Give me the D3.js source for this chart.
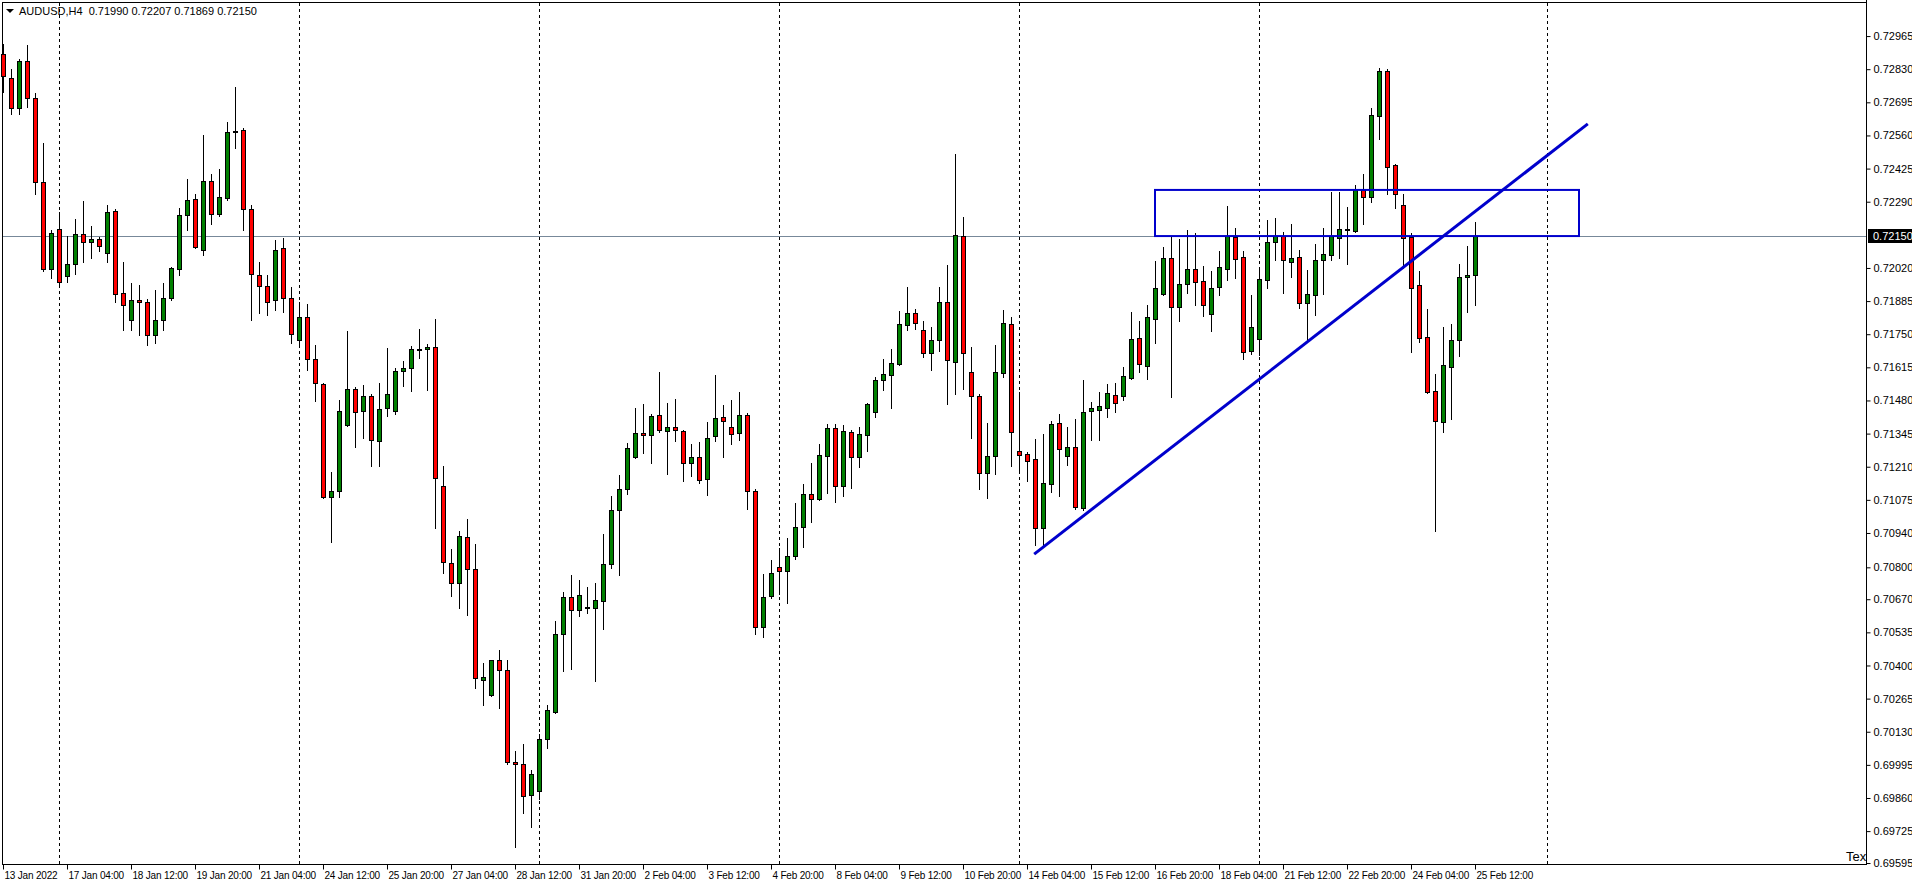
<!DOCTYPE html>
<html>
<head>
<meta charset="utf-8">
<script src="https://cdn.jsdelivr.net/npm/d3@7"></script>
<style>
  body { margin: 0; background: #fff; }
  svg { display: block; font-family: "Liberation Sans", Arial, sans-serif; }
</style>
</head>
<body>
<svg id="chart" width="1912" height="885"></svg>
<script>
// AUDUSD H4 candles (open, high, low, close)
const opens = [
  0.72892,0.72794,0.72672,0.72863,0.72713,0.72370,0.72016,0.72179,0.71988,0.72037,
  0.72159,0.72126,0.72138,0.72081,0.72252,0.71918,0.71808,0.71890,0.71881,0.71747,
  0.71808,0.71898,0.72016,0.72236,0.72301,0.72093,0.72374,0.72240,0.72305,0.72578,
  0.72582,0.72260,0.71991,0.71947,0.71890,0.72102,0.71898,0.71727,0.71820,0.71649,
  0.71547,0.71087,0.71111,0.71380,0.71527,0.71437,0.71498,0.71315,0.71449,0.71437,
  0.71600,0.71612,0.71690,0.71690,0.71698,0.71132,0.70818,0.70736,0.70924,0.70793,
  0.70341,0.70280,0.70422,0.70382,0.70007,0.69999,0.69872,0.69889,0.70101,0.70211,
  0.70529,0.70680,0.70627,0.70635,0.70635,0.70663,0.70814,0.71034,0.71120,0.71250,
  0.71348,0.71339,0.71421,0.71356,0.71372,0.71356,0.71225,0.71250,0.71160,0.71335,
  0.71413,0.71372,0.71348,0.71421,0.71111,0.70557,0.70684,0.70802,0.70786,0.70847,
  0.70965,0.71099,0.71079,0.71254,0.71368,0.71132,0.71352,0.71250,0.71339,0.71433,
  0.71564,0.71584,0.71629,0.71788,0.71837,0.71767,0.71674,0.71727,0.71881,0.71637,
  0.72150,0.71596,0.71498,0.71185,0.71254,0.71592,0.71792,0.71274,0.71262,0.71242,
  0.70961,0.71140,0.71388,0.71254,0.71290,0.71042,0.71437,0.71441,0.71449,0.71502,
  0.71498,0.71572,0.71735,0.71621,0.71812,0.71914,0.72061,0.71861,0.71955,0.72016,
  0.71967,0.71833,0.71943,0.72016,0.72146,0.72065,0.71682,0.71731,0.71971,0.72126,
  0.72150,0.72045,0.72065,0.71877,0.71910,0.72053,0.72073,0.72142,0.72175,0.72171,
  0.72338,0.72309,0.72639,0.72823,0.72440,0.72277,0.72146,0.71951,0.71739,0.71519,
  0.71392,0.71617,0.71727,0.71983,0.71990
];
const highs = [
  0.72933,0.72831,0.72872,0.72929,0.72733,0.72529,0.72175,0.72248,0.72150,0.72220,
  0.72293,0.72191,0.72146,0.72277,0.72260,0.72045,0.71959,0.71951,0.71894,0.71930,
  0.71959,0.72024,0.72264,0.72383,0.72322,0.72562,0.72403,0.72423,0.72615,0.72758,
  0.72590,0.72277,0.72045,0.71991,0.72134,0.72142,0.71943,0.71881,0.71873,0.71706,
  0.71550,0.71189,0.71482,0.71763,0.71535,0.71543,0.71506,0.71551,0.71694,0.71612,
  0.71641,0.71702,0.71771,0.71710,0.71812,0.71213,0.70875,0.70948,0.70997,0.70895,
  0.70410,0.70422,0.70463,0.70422,0.70052,0.70080,0.69974,0.70121,0.70239,0.70582,
  0.70700,0.70769,0.70749,0.70720,0.70736,0.70936,0.71091,0.71177,0.71307,0.71449,
  0.71466,0.71425,0.71596,0.71470,0.71486,0.71360,0.71303,0.71311,0.71392,0.71584,
  0.71462,0.71482,0.71515,0.71429,0.71120,0.70773,0.70830,0.70879,0.70920,0.71062,
  0.71140,0.71225,0.71303,0.71384,0.71384,0.71380,0.71360,0.71372,0.71470,0.71576,
  0.71649,0.71691,0.71845,0.71943,0.71853,0.71804,0.71780,0.71943,0.72032,0.72484,
  0.72228,0.71698,0.71506,0.71388,0.71706,0.71849,0.71820,0.71515,0.71270,0.71323,
  0.71344,0.71397,0.71425,0.71372,0.71405,0.71563,0.71474,0.71515,0.71547,0.71551,
  0.71617,0.71841,0.71804,0.71869,0.72048,0.72106,0.72146,0.72138,0.72175,0.72163,
  0.72028,0.72008,0.72089,0.72273,0.72183,0.72089,0.71910,0.72024,0.72216,0.72224,
  0.72167,0.72199,0.72093,0.72012,0.72118,0.72183,0.72330,0.72330,0.72268,0.72358,
  0.72403,0.72672,0.72835,0.72831,0.72444,0.72322,0.72163,0.72008,0.71853,0.71588,
  0.71780,0.71792,0.72036,0.72110,0.72207
];
const lows = [
  0.72737,0.72648,0.72648,0.72676,0.72322,0.72008,0.71979,0.71951,0.71963,0.71996,
  0.72045,0.72061,0.72089,0.72045,0.71881,0.71767,0.71767,0.71747,0.71706,0.71714,
  0.71767,0.71890,0.71991,0.72175,0.72102,0.72073,0.72199,0.72232,0.72297,0.72509,
  0.72175,0.71808,0.71837,0.71828,0.71849,0.71841,0.71714,0.71706,0.71604,0.71478,
  0.71083,0.70903,0.71087,0.71376,0.71290,0.71327,0.71213,0.71213,0.71417,0.71425,
  0.71539,0.71519,0.71653,0.71523,0.70960,0.70777,0.70683,0.70635,0.70606,0.70308,
  0.70239,0.70275,0.70227,0.69999,0.69660,0.69799,0.69742,0.69856,0.70064,0.70207,
  0.70378,0.70386,0.70602,0.70614,0.70337,0.70549,0.70798,0.70769,0.71099,0.71245,
  0.71266,0.71225,0.71352,0.71181,0.71315,0.71152,0.71172,0.71144,0.71095,0.71315,
  0.71250,0.71303,0.71319,0.71038,0.70529,0.70516,0.70676,0.70692,0.70655,0.70834,
  0.70883,0.70985,0.71075,0.71103,0.71067,0.71091,0.71124,0.71209,0.71274,0.71413,
  0.71523,0.71449,0.71625,0.71767,0.71771,0.71657,0.71604,0.71682,0.71466,0.71506,
  0.71527,0.71327,0.71120,0.71083,0.71181,0.71576,0.71213,0.71197,0.71152,0.70891,
  0.70891,0.71107,0.71091,0.71217,0.71038,0.71034,0.71319,0.71319,0.71413,0.71433,
  0.71482,0.71568,0.71596,0.71568,0.71714,0.71910,0.71494,0.71804,0.71918,0.71869,
  0.71824,0.71763,0.71910,0.71971,0.71979,0.71649,0.71670,0.71665,0.71938,0.72053,
  0.71918,0.71983,0.71857,0.71718,0.71828,0.71914,0.72053,0.72061,0.72036,0.72167,
  0.72199,0.72289,0.72546,0.72322,0.72264,0.72020,0.71678,0.71718,0.71511,0.70948,
  0.71352,0.71405,0.71661,0.71841,0.71869
];
const closes = [
  0.72802,0.72672,0.72863,0.72713,0.72370,0.72016,0.72163,0.71963,0.72037,0.72159,
  0.72126,0.72138,0.72110,0.72248,0.71914,0.71869,0.71890,0.71881,0.71747,0.71808,
  0.71898,0.72020,0.72236,0.72297,0.72106,0.72374,0.72240,0.72309,0.72574,0.72580,
  0.72260,0.71996,0.71947,0.71881,0.72093,0.71898,0.71751,0.71820,0.71649,0.71551,
  0.71087,0.71111,0.71437,0.71527,0.71433,0.71498,0.71319,0.71445,0.71506,0.71600,
  0.71612,0.71690,0.71688,0.71698,0.71164,0.70822,0.70736,0.70928,0.70793,0.70349,
  0.70353,0.70422,0.70382,0.70007,0.69999,0.69868,0.69958,0.70101,0.70219,0.70528,
  0.70680,0.70627,0.70688,0.70637,0.70667,0.70814,0.71034,0.71120,0.71286,0.71348,
  0.71339,0.71417,0.71360,0.71372,0.71360,0.71225,0.71250,0.71156,0.71327,0.71409,
  0.71397,0.71344,0.71421,0.71111,0.70557,0.70680,0.70777,0.70786,0.70847,0.70965,
  0.71099,0.71079,0.71258,0.71368,0.71132,0.71356,0.71250,0.71344,0.71466,0.71564,
  0.71588,0.71633,0.71792,0.71837,0.71796,0.71674,0.71727,0.71881,0.71645,0.72154,
  0.71674,0.71498,0.71185,0.71254,0.71596,0.71796,0.71352,0.71258,0.71234,0.70961,
  0.71144,0.71384,0.71282,0.71290,0.71046,0.71433,0.71449,0.71458,0.71511,0.71470,
  0.71580,0.71731,0.71629,0.71820,0.71938,0.72061,0.71861,0.71955,0.72016,0.71963,
  0.71869,0.71938,0.72024,0.72150,0.72057,0.71678,0.71780,0.71975,0.72126,0.72150,
  0.72053,0.72061,0.71877,0.71914,0.72053,0.72077,0.72150,0.72179,0.72177,0.72338,
  0.72309,0.72643,0.72823,0.72432,0.72322,0.72142,0.71938,0.71735,0.71515,0.71397,
  0.71625,0.71727,0.71983,0.71991,0.72150
];

const timeLabels = [
  "13 Jan 2022","17 Jan 04:00","18 Jan 12:00","19 Jan 20:00","21 Jan 04:00","24 Jan 12:00",
  "25 Jan 20:00","27 Jan 04:00","28 Jan 12:00","31 Jan 20:00","2 Feb 04:00","3 Feb 12:00",
  "4 Feb 20:00","8 Feb 04:00","9 Feb 12:00","10 Feb 20:00","14 Feb 04:00","15 Feb 12:00",
  "16 Feb 20:00","18 Feb 04:00","21 Feb 12:00","22 Feb 20:00","24 Feb 04:00","25 Feb 12:00"
];
const priceTicks = [
  0.72965,0.72830,0.72695,0.72560,0.72425,0.72290,0.72020,0.71885,0.71750,0.71615,
  0.71480,0.71345,0.71210,0.71075,0.70940,0.70800,0.70670,0.70535,0.70400,0.70265,
  0.70130,0.69995,0.69860,0.69725,0.69595
];
const weekBreaks = [7, 37, 67, 97, 127, 157, 193];   // candle index of the separators
const lastPrice = 0.72150;
const trendLine = [[128.9, 0.70854], [198.1, 0.72607]];
const zone = { from: 144, to: 197, top: 0.72338, bottom: 0.72150 };

const svg = d3.select("#chart");
const plotL = 2, plotR = 1866, plotT = 2, plotB = 864;

const x = d3.scaleLinear().domain([0, 233]).range([3, 3 + 8 * 233]);
const y = d3.scaleLinear().domain([0.73112, 0.69591]).range([0, 864]);

const candles = opens.map((o, i) => ({ i, o, h: highs[i], l: lows[i], c: closes[i] }));

// plot frame
svg.append("rect").attr("x", plotL + 0.5).attr("y", plotT + 0.5)
  .attr("width", plotR - plotL).attr("height", plotB - plotT)
  .attr("fill", "#fff").attr("stroke", "#000");

// week separators
svg.append("g").selectAll("line").data(weekBreaks).join("line")
  .attr("x1", d => Math.round(x(d)) + 0.5).attr("x2", d => Math.round(x(d)) + 0.5)
  .attr("y1", plotT + 1).attr("y2", plotB)
  .attr("stroke", "#000").attr("stroke-dasharray", "3,3");

// current price line
svg.append("line")
  .attr("x1", plotL + 1).attr("x2", plotR)
  .attr("y1", Math.round(y(lastPrice)) + 0.5).attr("y2", Math.round(y(lastPrice)) + 0.5)
  .attr("stroke", "#778899");

// candles
const g = svg.append("g");
g.selectAll("line.wick").data(candles).join("line").attr("class", "wick")
  .attr("x1", d => Math.round(x(d.i)) + 0.5).attr("x2", d => Math.round(x(d.i)) + 0.5)
  .attr("y1", d => Math.round(y(d.h))).attr("y2", d => Math.round(y(d.l)) + 1)
  .attr("stroke", "#000");
g.selectAll("rect").data(candles).join("rect")
  .attr("x", d => Math.round(x(d.i)) - 2 + 0.5)
  .attr("y", d => Math.round(y(Math.max(d.o, d.c))) + 0.5)
  .attr("width", 4)
  .attr("height", d => Math.max(1, Math.round(y(Math.min(d.o, d.c))) - Math.round(y(Math.max(d.o, d.c)))))
  .attr("fill", d => d.c >= d.o ? "#008000" : "#ff0000")
  .attr("stroke", "#000");

// drawn objects
svg.append("rect")
  .attr("x", x(zone.from)).attr("y", y(zone.top))
  .attr("width", x(zone.to) - x(zone.from)).attr("height", y(zone.bottom) - y(zone.top))
  .attr("fill", "none").attr("stroke", "#0000cc").attr("stroke-width", 2);
svg.append("line")
  .attr("x1", x(trendLine[0][0])).attr("y1", y(trendLine[0][1]))
  .attr("x2", x(trendLine[1][0])).attr("y2", y(trendLine[1][1]))
  .attr("stroke", "#0000cc").attr("stroke-width", 3);

// price axis
const yAxis = d3.axisRight(y).tickValues(priceTicks).tickFormat(d3.format(".5f")).tickSize(4).tickPadding(3);
const ya = svg.append("g").attr("transform", `translate(${plotR + 0.5},0)`).call(yAxis);
ya.select(".domain").attr("d", `M0,0V${plotB + 1}`);
ya.selectAll("text").attr("font-size", 11).attr("fill", "#000")
  .attr("font-family", "Liberation Sans, Arial, sans-serif");

// last price tag
const lp = svg.append("g").attr("transform", `translate(${plotR + 2},${Math.round(y(lastPrice))})`);
lp.append("rect").attr("x", 0).attr("y", -7).attr("width", 46).attr("height", 14).attr("fill", "#000");
lp.append("text").attr("x", 5).attr("y", 4).attr("fill", "#fff").attr("font-size", 11)
  .text(d3.format(".5f")(lastPrice));

// time axis
const xAxis = d3.axisBottom(x).tickValues(timeLabels.map((_, k) => k * 8))
  .tickFormat((d, k) => timeLabels[k]).tickSize(5).tickPadding(2);
const xa = svg.append("g").attr("transform", `translate(0,${plotB + 0.5})`).call(xAxis);
xa.select(".domain").attr("d", `M${plotL},0H${plotR}`);
xa.selectAll("text").attr("text-anchor", "start").attr("dx", 1).attr("font-size", 10)
  .attr("letter-spacing", "-0.2px").attr("fill", "#000")
  .attr("font-family", "Liberation Sans, Arial, sans-serif");

// header
svg.append("path").attr("d", "M6,9h8l-4,4z").attr("fill", "#000");
svg.append("text").attr("x", 19).attr("y", 15).attr("font-size", 11).attr("fill", "#000")
  .attr("xml:space", "preserve")
  .text("AUDUSD,H4  0.71990 0.72207 0.71869 0.72150");

svg.append("text").attr("x", 1846).attr("y", 861).attr("font-size", 13).attr("fill", "#000").text("Tex");
</script>
</body>
</html>
